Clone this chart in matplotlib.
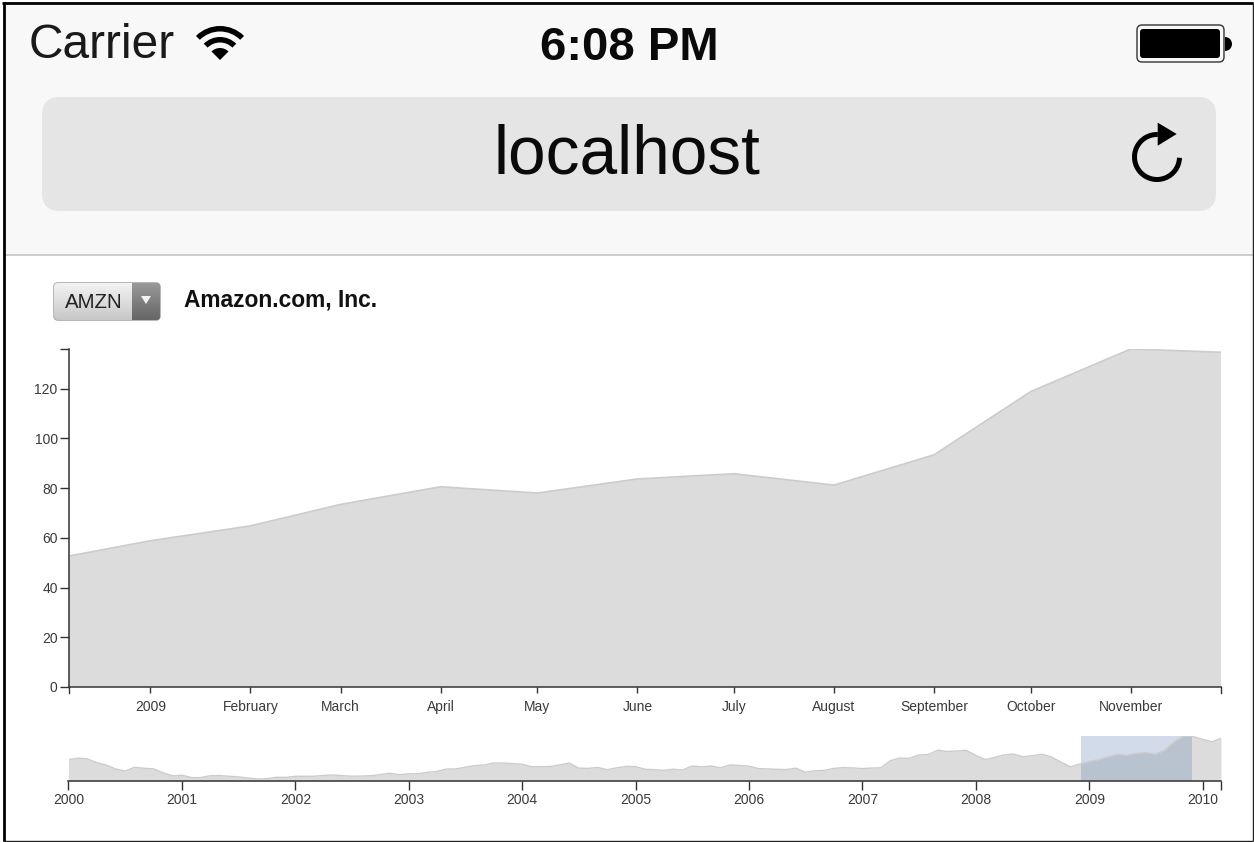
import numpy as np
import pandas as pd
import matplotlib
matplotlib.use("Agg")
import matplotlib.pyplot as plt
from matplotlib.patches import Rectangle, FancyBboxPatch, Wedge, Arc, Polygon

plt.rcParams['font.family'] = ['Liberation Sans', 'DejaVu Sans']

# ---- data ----
start_month = "2000-01-01"
prices = [
    64.56, 68.87, 67.00, 55.19, 48.31, 36.31, 30.12, 41.50, 38.44, 36.62, 24.69, 15.56,
    17.31, 10.19, 10.23, 15.78, 16.69, 14.15, 12.49, 8.94, 5.97, 6.98, 11.32, 10.82,
    14.19, 14.10, 14.30, 16.69, 18.23, 16.25, 14.45, 14.94, 15.93, 19.36, 23.35, 18.89,
    21.85, 22.01, 26.03, 28.69, 35.89, 36.32, 41.64, 46.32, 48.43, 54.43, 53.97, 52.62,
    50.40, 43.01, 43.28, 43.60, 48.50, 54.40, 38.92, 38.14, 40.86, 34.13, 39.68, 44.29,
    43.22, 35.18, 34.27, 32.36, 35.51, 33.09, 45.15, 42.70, 45.30, 39.86, 48.46, 47.15,
    44.82, 37.44, 36.53, 35.21, 34.61, 38.68, 26.89, 30.83, 32.12, 38.09, 40.34, 39.46,
    37.67, 39.14, 39.79, 61.33, 69.14, 68.41, 78.54, 79.91, 93.15, 89.15, 90.56, 92.64,
    77.70, 64.47, 71.30, 78.63, 81.62, 73.33, 76.34, 80.81, 72.76, 57.24, 42.70, 51.28,
    58.82, 64.79, 73.44, 80.52, 77.99, 83.66, 85.76, 81.19, 93.36, 118.81, 135.91, 134.52,
    125.41, 118.40, 128.82,
]
dates = pd.date_range(start_month, periods=len(prices), freq="MS")
y_ticks = [0, 20, 40, 60, 80, 100, 120]
focus_start = "2008-12-06 14:00"
focus_end = "2009-11-29"
focus_ticks = ["2009-01-01", "2009-02-01", "2009-03-01", "2009-04-01", "2009-05-01", "2009-06-01",
               "2009-07-01", "2009-08-01", "2009-09-01", "2009-10-01", "2009-11-01"]
focus_labels = ["2009", "February", "March", "April", "May", "June", "July", "August",
                "September", "October", "November"]
context_years = list(range(2000, 2011))
context_end = "2010-03-01"
symbol = "AMZN"
company = "Amazon.com, Inc."

W, H = 1254, 842
fig = plt.figure(figsize=(W / 100, H / 100), dpi=100, facecolor="white")


def px_axes(x0, y0, x1, y1, **kw):
    return fig.add_axes([x0 / W, 1 - y1 / H, (x1 - x0) / W, (y1 - y0) / H], **kw)


# ---- browser chrome ----
bg = fig.add_axes([0, 0, 1, 1])
bg.set_xlim(0, W)
bg.set_ylim(H, 0)
bg.axis("off")
bg.add_patch(Rectangle((5, 4), W - 6, 250, fc="#f8f8f8", ec="none"))
bg.plot([5, 1252], [254.5, 254.5], color="#c4c4c4", lw=1.2)
bg.add_patch(FancyBboxPatch((42 + 18, 97 + 18), 1174 - 36, 114 - 36,
                            boxstyle="round,pad=18,rounding_size=18", fc="#e5e5e5", ec="none"))
bg.text(29, 46, "Carrier", fontsize=34.5, color="#1a1a1a", ha="left", va="center")
bg.text(629, 47.5, "6:08 PM", fontsize=34, fontweight="bold", color="#0a0a0a", ha="center", va="center")
bg.text(627, 156, "localhost", fontsize=48.7, color="#0a0a0a", ha="center", va="center")

# wifi icon
for r, w in [(34, 5.5), (23, 5.5), (12, 12)]:
    bg.add_patch(Wedge((220, 60), r, 225, 315, width=w, fc="black", ec="none"))

# battery
bg.add_patch(FancyBboxPatch((1140, 28), 81, 31, boxstyle="round,pad=3,rounding_size=5",
                            fc="#f8f8f8", ec="#333333", lw=1))
bg.add_patch(FancyBboxPatch((1142, 31), 76, 25, boxstyle="round,pad=2,rounding_size=3",
                            fc="black", ec="none"))
bg.add_patch(Wedge((1225, 44), 7, -90, 90, fc="black", ec="none"))

# reload icon
bg.add_patch(Arc((1157, 157), 45, 45, theta1=2, theta2=272, color="black", lw=3.6))
bg.add_patch(Polygon([(1157.7, 122.7), (1176.7, 134), (1157.7, 145.7)], fc="black", ec="none"))

# outer frame
bg.plot([4, 4], [2, 841], color="black", lw=2.0, solid_capstyle="butt")
bg.plot([2, W - 1], [3, 3], color="black", lw=2.0, solid_capstyle="butt")
bg.plot([1252.5, 1252.5], [2, 841], color="#222222", lw=1.0, solid_capstyle="butt")
bg.plot([3, W - 1], [840.5, 840.5], color="#222222", lw=1.0, solid_capstyle="butt")

# select widget
left_box = FancyBboxPatch((57, 286), 100, 31, boxstyle="round,pad=3,rounding_size=4",
                          fc="none", ec="#9a9a9a", lw=1)
bg.add_patch(left_box)
grad = np.linspace(0, 1, 64)[:, None]
im1 = bg.imshow(0.95 - 0.17 * grad, cmap="gray", vmin=0, vmax=1, extent=(54, 132, 320, 283),
                aspect="auto", zorder=1)
im1.set_clip_path(left_box)
im2 = bg.imshow(0.60 - 0.20 * grad, cmap="gray", vmin=0, vmax=1, extent=(132, 160, 320, 283),
                aspect="auto", zorder=1)
im2.set_clip_path(left_box)
bg.set_xlim(0, W)
bg.set_ylim(H, 0)
bg.add_patch(Polygon([(141, 296), (151, 296), (146, 304)], fc="#f2f2f2", ec="none", zorder=3))
bg.text(93.5, 303, symbol, fontsize=14.8, color="#222222", ha="center", va="center", zorder=3)
bg.text(184, 300, company, fontsize=16.4, fontweight="bold", color="#111111",
        ha="left", va="center")

# ---- focus chart ----
label_color = "#3a3a3a"
axis_color = "#333333"
ax = px_axes(68.5, 349, 1221, 687)
ax.patch.set_alpha(0)
ax.fill_between(dates, prices, 0, color="#dcdcdc", lw=0)
ax.plot(dates, prices, color="#cccccc", lw=1.2)
ax.set_xlim(pd.Timestamp(focus_start), pd.Timestamp(focus_end))
ax.set_ylim(0, max(prices))
ax.set_xticks(pd.to_datetime(focus_ticks), focus_labels)
ax.set_yticks(y_ticks + [max(prices)], [str(v) for v in y_ticks] + [""])
for side in ("top", "right"):
    ax.spines[side].set_visible(False)
for side in ("left", "bottom"):
    ax.spines[side].set_color(axis_color)
    ax.spines[side].set_linewidth(1.1)
ax.tick_params(axis="x", length=4.3, width=1.0, color=axis_color, labelsize=10,
               labelcolor=label_color, pad=5)
ax.tick_params(axis="y", length=6.3, width=1.0, color=axis_color, labelsize=10,
               labelcolor=label_color, pad=1.5)
for d in (focus_start, focus_end):
    ax.plot([pd.Timestamp(d)] * 2, [0, -6 / 338 * max(prices)], color=axis_color, lw=1.0, clip_on=False)

# ---- context chart ----
cx = px_axes(68.5, 736, 1221, 781)
cx.patch.set_alpha(0)
cx.fill_between(dates, prices, 0, color="#dcdcdc", lw=0)
cx.plot(dates, prices, color="#cccccc", lw=1.0)
cx.set_xlim(dates[0], pd.Timestamp(context_end))
cx.set_ylim(0, max(prices))
cx.set_yticks([])
cx.axvspan(pd.Timestamp(focus_start), pd.Timestamp(focus_end), color="#5f7fb0", alpha=0.28, lw=0)
cx.set_xticks([pd.Timestamp(f"{y}-01-01") for y in context_years] + [pd.Timestamp(context_end)],
              [str(y) for y in context_years] + [""])
for side in ("top", "right", "left"):
    cx.spines[side].set_visible(False)
cx.spines["bottom"].set_color(axis_color)
cx.spines["bottom"].set_linewidth(1.1)
cx.tick_params(axis="x", length=6.3, width=1.0, color=axis_color, labelsize=10,
               labelcolor=label_color, pad=2.5)

fig.savefig("out.png", dpi=100)
